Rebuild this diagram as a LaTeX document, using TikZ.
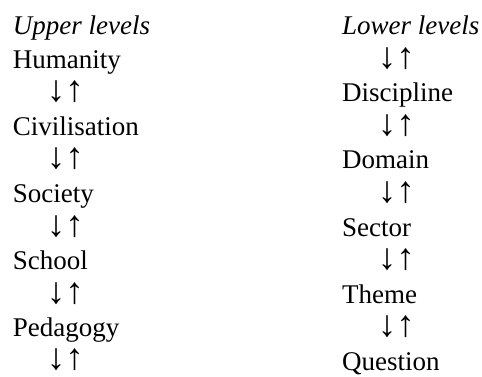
\documentclass[tikz,border=0pt]{standalone}
\usepackage{fontspec}
\setmainfont{Liberation Serif}
\newfontfamily\tnr{Liberation Serif}
\begin{document}
\begin{tikzpicture}[x=1pt,y=1pt,
  lbl/.style={inner sep=0pt, anchor=base west, font=\tnr\fontsize{27}{27}\selectfont},
  hdr/.style={lbl, font=\tnr\fontsize{27}{27}\selectfont\itshape},
  arr/.style={inner sep=0pt, anchor=base west, font=\tnr\fontsize{37}{37}\selectfont}]
\useasboundingbox (0,0) rectangle (482,376);
% left column
\node[hdr] (uh) at (12.7,341.6) {Upper levels};
\node[lbl] (hum) at (12.7,308) {Humanity};
\node[arr] (a1) at (46.7,274.4) {↓↑};
\node[lbl] (civ) at (12.7,240.8) {Civilisation};
\node[arr] (a2) at (46.7,207.2) {↓↑};
\node[lbl] (soc) at (12.7,173.6) {Society};
\node[arr] (a3) at (46.7,140) {↓↑};
\node[lbl] (sch) at (12.7,106.4) {School};
\node[arr] (a4) at (46.7,72.8) {↓↑};
\node[lbl] (ped) at (12.7,39.2) {Pedagogy};
\node[arr] (a5) at (46.7,6.2) {↓↑};
% right column
\node[hdr] (lh) at (342,341.6) {Lower levels};
\node[arr] (b1) at (377.7,308) {↓↑};
\node[lbl] (dis) at (342,274.4) {Discipline};
\node[arr] (b2) at (377.7,240.8) {↓↑};
\node[lbl] (dom) at (342,207.2) {Domain};
\node[arr] (b3) at (377.7,173.6) {↓↑};
\node[lbl] (sec) at (342,140) {Sector};
\node[arr] (b4) at (377.7,106.4) {↓↑};
\node[lbl] (the) at (342,72.8) {Theme};
\node[arr] (b5) at (377.7,39.2) {↓↑};
\node[lbl] (que) at (342,5.6) {Question};
\end{tikzpicture}
\end{document}
